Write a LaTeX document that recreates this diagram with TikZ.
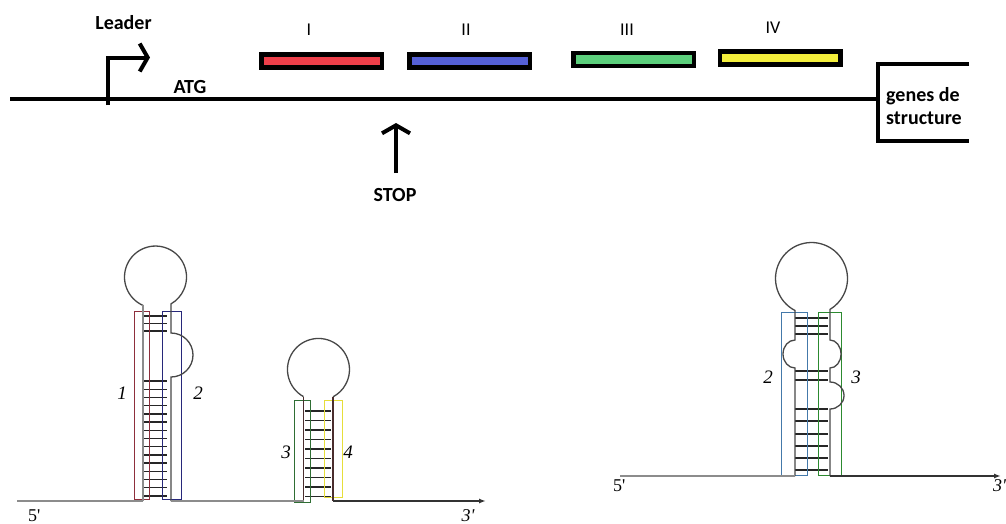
\documentclass[tikz,border=0pt]{standalone}
\usepackage{fontspec}
\newfontfamily\carl{Carlito}
\newfontfamily\tnr{Liberation Serif}
\usetikzlibrary{arrows.meta}
\definecolor{genered}{HTML}{EE3F4A}
\definecolor{geneblue}{HTML}{5560D6}
\definecolor{genegreen}{HTML}{5CCF7C}
\definecolor{geneyellow}{HTML}{F4EF3C}
\definecolor{rectred}{HTML}{8E2F3C}
\definecolor{rectnavy}{HTML}{27287A}
\definecolor{rectgreen}{HTML}{2F6E34}
\definecolor{rectyellow}{HTML}{E6DE3A}
\definecolor{rectsteel}{HTML}{4479AA}
\definecolor{rectgreenb}{HTML}{2C8A30}
\definecolor{strandbrown}{HTML}{4B2E2E}
\begin{document}
\begin{tikzpicture}[x=1pt,y=1pt,yscale=-1,
  gene/.style={draw=black,line width=4.5pt,minimum width=120.5pt,minimum height=13pt,inner sep=0pt,outer sep=0pt},
  lbl/.style={font=\carl\bfseries\fontsize{20}{24}\selectfont,inner sep=0pt,anchor=base},
  roman/.style={font=\carl\fontsize{18}{21}\selectfont,inner sep=0pt,anchor=base},
  dna/.style={line width=4pt},
  bigtip/.style={-{Straight Barb[length=8pt,width=28pt]}},
  strand/.style={line width=1.3pt,draw=black!72},
  rung/.style={line width=1.4pt,draw=black!85},
  region/.style={line width=0.9pt},
  ital/.style={font=\tnr\itshape\fontsize{19}{22}\selectfont,inner sep=0pt},
  primeup/.style={font=\tnr\fontsize{18}{21}\selectfont,inner sep=0pt,anchor=base west},
  primeit/.style={font=\tnr\itshape\fontsize{18}{21}\selectfont,inner sep=0pt,anchor=base west},
  bline/.style={line width=1.4pt,draw=black!45},
  bline2/.style={line width=1.4pt,draw=black!80},
  endtip/.style={-{Latex[length=7pt,width=5pt]}}
]
\fill[white] (0,0) rectangle (1006,523);
\useasboundingbox (0,0) rectangle (1006,523);

% ---------------- top: operon ----------------
\coordinate (dnaL) at (10,98.5);
\coordinate (dnaR) at (878,98.5);
\draw[dna] (dnaL) -- (dnaR);
\coordinate (brTR) at (969,64);
\coordinate (brTL) at (878,64);
\coordinate (brBL) at (878,141);
\coordinate (brBR) at (969,141);
\draw[dna] (brTR) -- (brTL) -- (brBL) -- (brBR);

\coordinate (pb) at (107.5,105);
\coordinate (pc) at (107.5,57.5);
\coordinate (pt) at (150,57.5);
\draw[dna,bigtip] (pb) -- (pc) -- (pt);

\coordinate (sb) at (396,173);
\coordinate (st) at (396,123);
\draw[dna,bigtip] (sb) -- (st);

\node[gene,fill=genered] (g1) at (321.6,61.2) {};
\node[gene,fill=geneblue] (g2) at (469.8,61.2) {};
\node[gene,fill=genegreen] (g3) at (633.8,59.5) {};
\node[gene,fill=geneyellow] (g4) at (780,57.8) {};

\node[roman] (r1) at (309,35) {I};
\node[roman] (r2) at (466,35) {II};
\node[roman] (r3) at (627,35) {III};
\node[roman] (r4) at (773,33) {IV};

\node[lbl] (leader) at (123.5,29) {Leader};
\node[lbl] (atg) at (190,93) {ATG};
\node[lbl] (stop) at (395,201.5) {STOP};
\node[lbl,anchor=base west] (genes1) at (886,101.5) {genes de};
\node[lbl,anchor=base west] (genes2) at (886,124) {structure};

% ---------------- hairpin 1 (1:2) ----------------
\foreach \y in {316,323.5,331} {\draw[rung] (143,\y) -- (167,\y);}
\foreach \k in {0,...,14} {\draw[rung] (143,{381+8.2*\k}) -- (167,{381+8.2*\k});}
\draw[region,rectred] (134,311) rectangle (149,499);
\draw[region,rectnavy] (162,311) rectangle (181,499);
\draw[strand] (143,305.4) arc[start angle=113.8,end angle=420,radius=31]
  -- (171,333) arc[start angle=-90,end angle=90,radius=22] -- (171,501);
\draw[strand,draw=black!45,line width=1.8pt] (143,501) -- (143,305.4);

% ---------------- hairpin 2 (3:4) ----------------
\foreach \k in {0,...,9} {\draw[rung] (305,{411+9.5*\k}) -- (331,{411+9.5*\k});}
\draw[region,rectgreen] (294,400) rectangle (310,502);
\draw[region,rectyellow] (324,400) rectangle (342,497);
\draw[strand] (303.5,396.6) arc[start angle=118.9,end angle=422.1,radius=31];
\draw[strand,draw=strandbrown,line width=1.6pt] (303.5,501) -- (303.5,396.6);
\draw[strand,draw=strandbrown,line width=1.6pt] (333,396.9) -- (333,501);

% baseline 1
\coordinate (b1a) at (17,501);
\coordinate (b1b) at (143,501);
\coordinate (b1c) at (171,501);
\coordinate (b1d) at (303.5,501);
\coordinate (b1e) at (333,501);
\coordinate (b1f) at (486,501);
\draw[bline] (b1a) -- (b1b);
\draw[bline] (b1c) -- (b1d);
\draw[bline2,endtip] (b1e) -- (b1f);

\node[ital] (n1) at (122,393) {1};
\node[ital] (n2) at (198,393) {2};
\node[ital] (n3) at (286,452) {3};
\node[ital] (n4) at (348,452) {4};
\node[primeup] (p5a) at (28,521) {5'};
\node[primeit] (p3a) at (461.5,521) {3'};

% ---------------- hairpin 3 (2:3) ----------------
\foreach \y in {318,326,334,371,380,409,421,434,446,458,470} {\draw[rung] (795,\y) -- (828,\y);}
\draw[region,rectsteel] (781,312) rectangle (807,475);
\draw[region,rectgreenb] (818,312) rectangle (841,475);
\draw[strand] (795,476) -- (795,368) arc[start angle=90,end angle=270,x radius=12,y radius=14]
  -- (795,310.5) arc[start angle=117.3,end angle=419.1,radius=36]
  -- (830,340) arc[start angle=-90,end angle=90,x radius=11,y radius=14]
  -- (830,382) arc[start angle=-90,end angle=90,x radius=14,y radius=13.5]
  -- (830,476);

\coordinate (b2a) at (620,476);
\coordinate (b2b) at (795,476);
\coordinate (b2c) at (830,476);
\coordinate (b2d) at (1001,476);
\draw[bline] (b2a) -- (b2b);
\draw[bline2,endtip] (b2c) -- (b2d);

\node[ital] (m2) at (768,377) {2};
\node[ital] (m3) at (856,377) {3};
\node[primeup] (p5b) at (613,491) {5'};
\node[primeit] (p3b) at (993,491) {3'};
\end{tikzpicture}
\end{document}
